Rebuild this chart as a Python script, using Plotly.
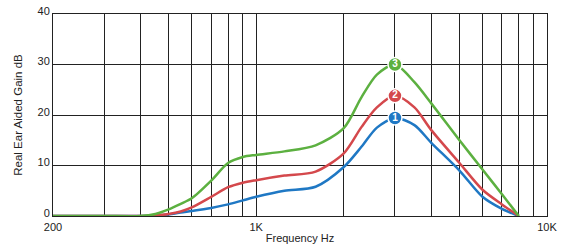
import plotly.graph_objects as go

freq = [200, 300, 400, 450, 500, 550, 600, 700, 800, 900, 1000, 1250, 1600,
        2000, 2300, 2600, 3000, 3500, 4000, 5000, 6000, 7000, 8000]
gain_1 = [0, 0, 0, 0.1, 0.3, 0.7, 1.0, 1.6, 2.3, 3.1, 3.8, 5.0, 5.8,
          9.7, 13.7, 17.5, 19.4, 18.0, 14.5, 9.0, 3.8, 1.4, 0]
gain_2 = [0, 0, 0, 0.1, 0.4, 0.9, 1.7, 3.8, 5.7, 6.6, 7.1, 8.0, 8.8,
          12.4, 17.6, 21.5, 23.8, 21.5, 17.0, 10.5, 5.2, 2.3, 0]
gain_3 = [0, 0, 0, 0.4, 1.3, 2.4, 3.5, 7.0, 10.5, 11.7, 12.1, 12.8, 14.0,
          17.4, 23.5, 28.0, 30.0, 26.5, 22.3, 15.0, 9.2, 4.3, 0]
curve_names = ["1", "2", "3"]
peak_freq = 3000
peak_gain = [19.4, 23.8, 30.0]
colors = ["#1f78c4", "#d4484c", "#5cb040"]

x_tickvals = [200, 300, 400, 500, 600, 700, 800, 900, 1000, 2000, 3000,
              4000, 5000, 6000, 7000, 8000, 9000, 10000]
x_ticktext = ["200", "", "", "", "", "", "", "", "1K", "", "", "", "", "",
              "", "", "", "10K"]
y_tickvals = [0, 10, 20, 30, 40]

fig = go.Figure()
for g, c in zip([gain_1, gain_2, gain_3], colors):
    fig.add_trace(go.Scatter(x=freq, y=g, mode="lines",
                             line=dict(color=c, width=2.5, shape="spline", smoothing=0.8),
                             hoverinfo="skip", showlegend=False))
for name, pg, c in zip(curve_names, peak_gain, colors):
    fig.add_trace(go.Scatter(x=[peak_freq], y=[pg], mode="markers+text",
                             marker=dict(size=14, color=c, line=dict(color="white", width=1.5)),
                             text=["<b>" + name + "</b>"], textposition="middle center",
                             textfont=dict(color="white", size=10, family="Liberation Sans"),
                             showlegend=False, cliponaxis=False))

fig.update_layout(
    width=564, height=245,
    margin=dict(l=53, r=17, t=14, b=29),
    paper_bgcolor="white", plot_bgcolor="white",
    font=dict(family="Liberation Sans, Arial, sans-serif", size=11, color="#222"),
    xaxis=dict(type="log", range=[2.30103, 4], tickvals=x_tickvals, ticktext=x_ticktext,
               showgrid=True, gridcolor="#222", gridwidth=1, zeroline=False,
               showline=True, linecolor="#222", linewidth=1, mirror=True,
               ticks="", ticklen=0, automargin=False, ticklabelstandoff=1,
               title=dict(text="Frequency Hz", font=dict(size=11), standoff=2)),
    yaxis=dict(range=[0, 40], tickvals=y_tickvals,
               showgrid=True, gridcolor="#222", gridwidth=1, zeroline=False,
               showline=True, linecolor="#222", linewidth=1, mirror=True,
               ticks="", ticklen=0, automargin=False, ticklabelshift=-3,
               title=dict(text="Real Ear Aided Gain dB", font=dict(size=11.5), standoff=12)),
)
fig.write_html("out.html", config={"displayModeBar": False},
               post_script="document.body.style.margin='0';document.body.style.overflow='hidden';")
